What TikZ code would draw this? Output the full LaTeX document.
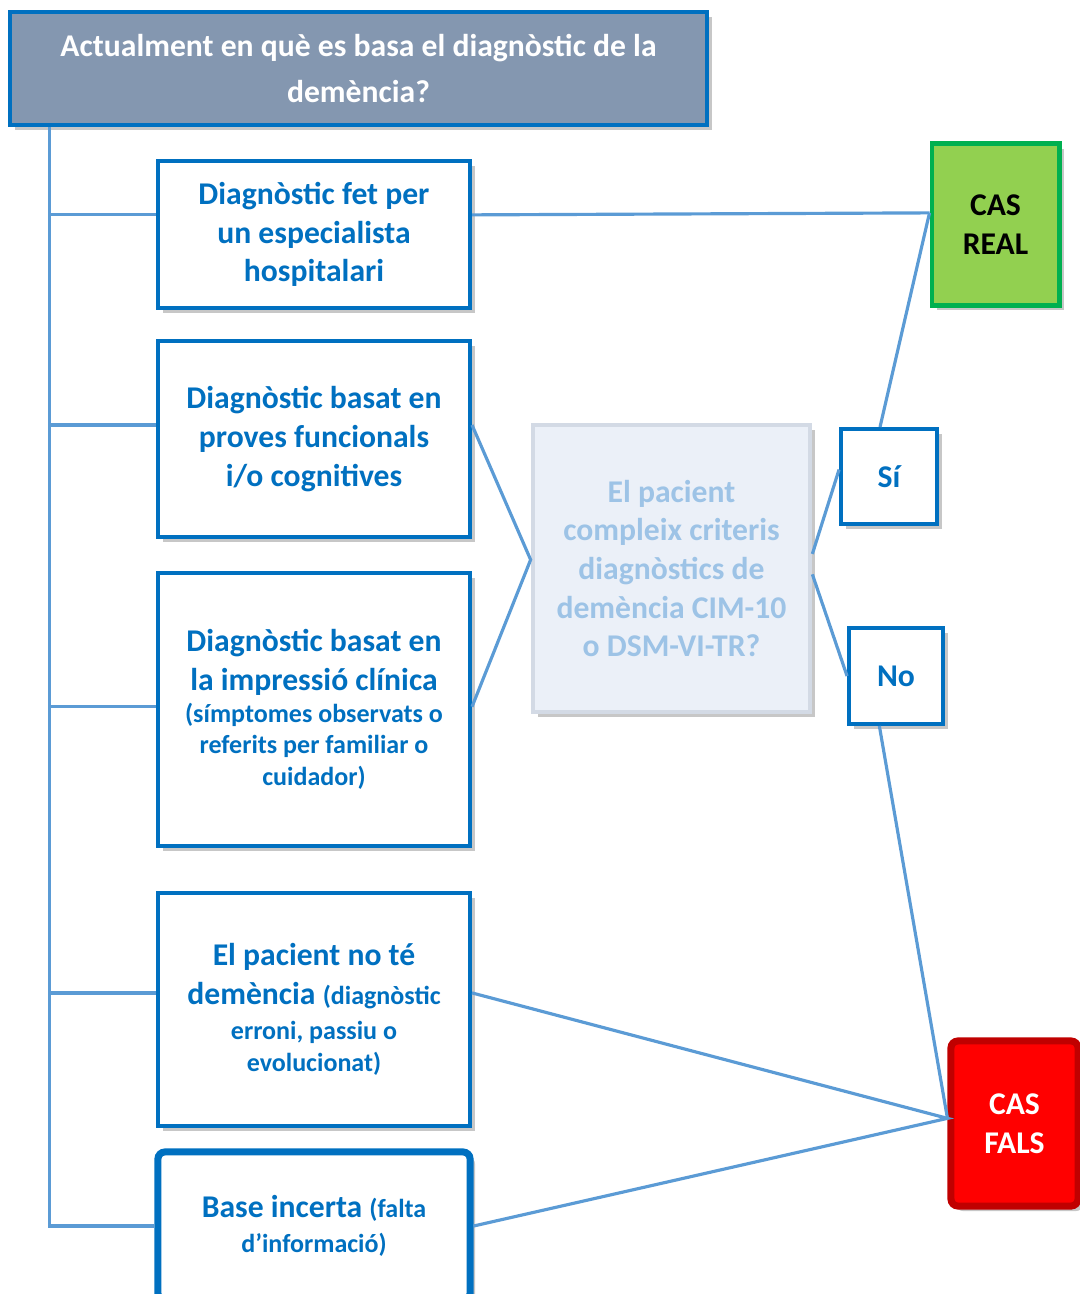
\documentclass[tikz,border=0pt]{standalone}
\usepackage{fontspec}
\setmainfont{Carlito}
\usetikzlibrary{calc,shadows,positioning}

\definecolor{boxblue}{HTML}{0070C0}
\definecolor{linkblue}{HTML}{5B9BD5}
\definecolor{titlefill}{HTML}{8497B0}
\definecolor{qfill}{HTML}{EBF0F8}
\definecolor{qdraw}{HTML}{D3DAE5}
\definecolor{qtext}{HTML}{9DC3E6}
\definecolor{realfill}{HTML}{92D050}
\definecolor{realdraw}{HTML}{00B050}
\definecolor{falsfill}{HTML}{FF0000}
\definecolor{falsdraw}{HTML}{C00000}

\newcommand{\smalltxt}{\fontsize{7.4}{9}\selectfont}

\tikzset{
  shade/.style={drop shadow={shadow xshift=0.5mm,shadow yshift=-0.5mm,opacity=0.22,fill=black}},
  crit/.style={draw=boxblue,line width=1.1pt,fill=white,text=boxblue,align=center,
    font=\fontsize{9}{11}\selectfont\bfseries,minimum width=3.12cm,inner sep=2pt,shade},
  answer/.style={crit,minimum width=0.96cm,minimum height=0.95cm},
  link/.style={draw=linkblue,line width=0.9pt}
}

\begin{document}
\begin{tikzpicture}[x=0.01cm,y=-0.01cm]
 \useasboundingbox (0,0) rectangle (1080,1294);
 \clip (0,0) rectangle (1080,1294);
 % question
 \node[draw=boxblue,line width=1.3pt,fill=titlefill,text=white,align=center,
   font=\fontsize{9}{13}\selectfont\bfseries,minimum width=6.97cm,minimum height=1.13cm,shade]
   (title) at (358.5,68.5) {Actualment en què es basa el diagnòstic de la\\demència?};
 % criteria
 \node[crit,minimum height=1.47cm] (b1) at (314,234.5)
   {Diagnòstic fet per\\un especialista\\hospitalari};
 \node[crit,minimum height=1.96cm] (b2) at (314,439)
   {Diagnòstic basat en\\proves funcionals\\i/o cognitives};
 \node[crit,minimum height=2.73cm] (b3) at (314,709.5)
   {Diagnòstic basat en\\la impressió clínica\\[-2pt]{\smalltxt(símptomes observats o}\\[-2pt]
    {\smalltxt referits per familiar o}\\[-2pt]{\smalltxt cuidador)}};
 \node[crit,minimum height=2.33cm] (b4) at (314,1009.5)
   {El pacient no té\\demència {\smalltxt(diagnòstic}\\[-1pt]{\smalltxt erroni, passiu o}\\[-2pt]
    {\smalltxt evolucionat)}};
 \node[crit,line width=2pt,rounded corners=2pt,minimum height=1.48cm] (b5) at (314,1226)
   {Base incerta {\smalltxt(falta}\\[-1pt]{\smalltxt d’informació)}};
 % diagnostic criteria
 \node[draw=qdraw,line width=1.3pt,fill=qfill,text=qtext,align=center,
   font=\fontsize{9}{11}\selectfont\bfseries,minimum width=2.77cm,minimum height=2.87cm,shade]
   (crit) at (671.5,568.5) {El pacient\\compleix criteris\\diagnòstics de\\demència CIM-10\\o DSM-VI-TR?};
 \node[answer] (yes) at (889,476.5) {Sí};
 \node[answer,minimum width=0.94cm,minimum height=0.96cm] (no) at (896,676) {No};
 % outcomes
 \node[draw=realdraw,line width=1.4pt,fill=realfill,align=center,
   font=\fontsize{9}{11}\selectfont\bfseries,minimum width=1.27cm,minimum height=1.61cm,shade]
   (real) at (995.5,224.5) {CAS\\REAL};
 \node[draw=falsdraw,line width=2pt,fill=falsfill,text=white,rounded corners=2pt,align=center,
   font=\fontsize{9}{11}\selectfont\bfseries,minimum width=1.27cm,minimum height=1.65cm,shade]
   (fals) at (1014.5,1123.5) {CAS\\FALS};
 % attachment points
 \coordinate (trunk) at ($(title.south west)+(42,0)$);
 \coordinate (realin) at ($(real.north west)!0.43!(real.south west)$);
 \coordinate (critin) at ($(crit.north west)!0.47!(crit.south west)$);
 \coordinate (yesin) at ($(yes.north west)!0.43!(yes.south west)$);
 \coordinate (yesout) at ($(yes.north west)!0.41!(yes.north east)$);
 \coordinate (noout) at ($(no.south west)!0.33!(no.south east)$);
 \coordinate (falsin) at ($(fals.north west)!0.47!(fals.south west)$);
 \foreach \b/\f in {b1/0.37,b2/0.43,b3/0.49,b4/0.43,b5/0.5}{
   \coordinate (\b w) at ($(\b.north west)!\f!(\b.south west)$);
   \coordinate (\b e) at ($(\b.north east)!\f!(\b.south east)$);
 }
 % tree
 \draw[link] (trunk) -- (trunk |- b5w) -- (b5w);
 \foreach \b in {b1,b2,b3,b4}{\draw[link] (\b w -| trunk) -- (\b w);}
 % links
 \draw[link] (b1e) -- (realin);
 \draw[link] (b2e) -- (critin) -- (b3e);
 \draw[link] ($(crit.north east)!0.45!(crit.south east)$) -- (yesin);
 \draw[link] ($(crit.north east)!0.52!(crit.south east)$) -- (no.west);
 \draw[link] (yesout) -- (realin);
 \draw[link] (noout) -- (falsin);
 \draw[link] (b4e) -- (falsin) -- (b5e);
\end{tikzpicture}
\end{document}
